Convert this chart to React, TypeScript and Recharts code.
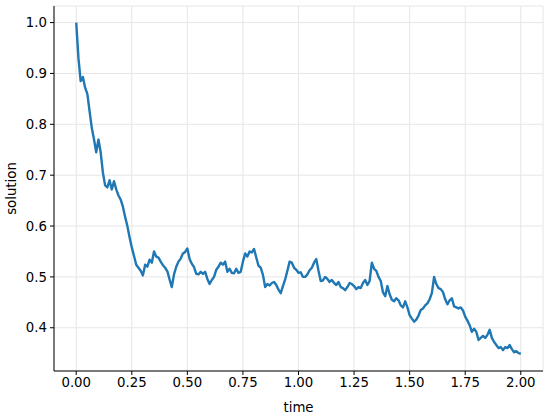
import React from 'react';
import { LineChart, Line, XAxis, YAxis, CartesianGrid } from 'recharts';

const times: number[] = Array.from({ length: 201 }, (_, i) => i / 100);

const solution: number[] = [
  1.000, 0.930, 0.885, 0.893, 0.872, 0.860, 0.826, 0.793, 0.770, 0.745,
  0.770, 0.745, 0.705, 0.680, 0.676, 0.690, 0.672, 0.688, 0.672, 0.660,
  0.652, 0.638, 0.618, 0.600, 0.578, 0.558, 0.541, 0.524, 0.518, 0.512,
  0.503, 0.524, 0.520, 0.534, 0.528, 0.550, 0.540, 0.538, 0.530, 0.523,
  0.518, 0.511, 0.495, 0.480, 0.505, 0.520, 0.530, 0.536, 0.546, 0.549,
  0.556, 0.535, 0.526, 0.519, 0.506, 0.505, 0.510, 0.506, 0.510, 0.496,
  0.486, 0.494, 0.500, 0.514, 0.520, 0.528, 0.524, 0.530, 0.510, 0.516,
  0.508, 0.507, 0.516, 0.508, 0.510, 0.530, 0.546, 0.540, 0.550, 0.548,
  0.555, 0.538, 0.522, 0.518, 0.504, 0.480, 0.486, 0.483, 0.488, 0.490,
  0.484, 0.475, 0.468, 0.482, 0.495, 0.512, 0.530, 0.528, 0.518, 0.514,
  0.508, 0.509, 0.500, 0.500, 0.505, 0.513, 0.518, 0.528, 0.535, 0.512,
  0.492, 0.493, 0.500, 0.496, 0.490, 0.494, 0.488, 0.484, 0.490, 0.480,
  0.478, 0.474, 0.480, 0.488, 0.486, 0.482, 0.476, 0.480, 0.478, 0.488,
  0.494, 0.484, 0.492, 0.528, 0.516, 0.512, 0.500, 0.492, 0.470, 0.462,
  0.482, 0.466, 0.455, 0.452, 0.458, 0.454, 0.444, 0.440, 0.452, 0.440,
  0.425, 0.418, 0.412, 0.416, 0.424, 0.435, 0.438, 0.444, 0.448, 0.456,
  0.468, 0.500, 0.486, 0.478, 0.476, 0.470, 0.456, 0.446, 0.454, 0.458,
  0.442, 0.440, 0.438, 0.440, 0.434, 0.422, 0.414, 0.405, 0.392, 0.398,
  0.392, 0.376, 0.380, 0.384, 0.380, 0.386, 0.396, 0.380, 0.372, 0.366,
  0.360, 0.362, 0.356, 0.362, 0.360, 0.366, 0.358, 0.352, 0.354, 0.350,
  0.349,
];

const xTicks: number[] = [0, 0.25, 0.5, 0.75, 1.0, 1.25, 1.5, 1.75, 2.0];
const yTicks: number[] = [0.4, 0.5, 0.6, 0.7, 0.8, 0.9, 1.0];

const data = times.map((t, i) => ({ t, v: solution[i] }));

const FONT = '"DejaVu Sans", sans-serif';
const FS = 13.3;
const tickStyle = { fontFamily: FONT, fontSize: FS, fill: '#000' };

export default function App() {
  return (
    <div style={{ position: 'absolute', left: 0, top: 0 }}>
      <LineChart width={550} height={420} data={data} margin={{ top: 6, right: 7, bottom: 0, left: 0 }}>
        <CartesianGrid
          xAxisId="main"
          yAxisId="main"
          stroke="#e6e6e6"
          strokeWidth={1}
          horizontal
          vertical
        />
        <XAxis
          xAxisId="main"
          dataKey="t"
          type="number"
          domain={[-0.1, 2.1]}
          allowDataOverflow
          ticks={xTicks}
          tickFormatter={(v: number) => v.toFixed(2)}
          tick={tickStyle}
          tickSize={4}
          tickMargin={3}
          height={49}
          axisLine={{ stroke: '#000', strokeWidth: 1 }}
          tickLine={{ stroke: '#000' }}
          label={{ value: 'time', position: 'insideBottom', offset: 8, style: { fontFamily: FONT, fontSize: FS, fill: '#000' } }}
        />
        <XAxis
          xAxisId="top"
          orientation="top"
          dataKey="t"
          type="number"
          domain={[-0.1, 2.1]}
          allowDataOverflow
          height={0}
          tick={false}
          tickLine={false}
          axisLine={{ stroke: '#000', strokeWidth: 1 }}
        />
        <YAxis
          yAxisId="main"
          type="number"
          domain={[0.315, 1.0326]}
          allowDataOverflow
          ticks={yTicks}
          tickFormatter={(v: number) => v.toFixed(1)}
          tick={tickStyle}
          tickSize={4}
          tickMargin={3}
          width={54}
          axisLine={{ stroke: '#000', strokeWidth: 1 }}
          tickLine={{ stroke: '#000' }}
          label={{ value: 'solution', angle: -90, position: 'insideLeft', offset: 11, style: { fontFamily: FONT, fontSize: FS, fill: '#000', textAnchor: 'middle' } }}
        />
        <YAxis
          yAxisId="right"
          orientation="right"
          type="number"
          domain={[0.315, 1.0326]}
          allowDataOverflow
          width={0}
          tick={false}
          tickLine={false}
          axisLine={{ stroke: '#000', strokeWidth: 1 }}
        />
        <Line
          xAxisId="main"
          yAxisId="main"
          type="linear"
          dataKey="v"
          stroke="#1f77b4"
          strokeWidth={2.4}
          strokeLinejoin="round"
          dot={false}
          isAnimationActive={false}
        />
      </LineChart>
    </div>
  );
}
